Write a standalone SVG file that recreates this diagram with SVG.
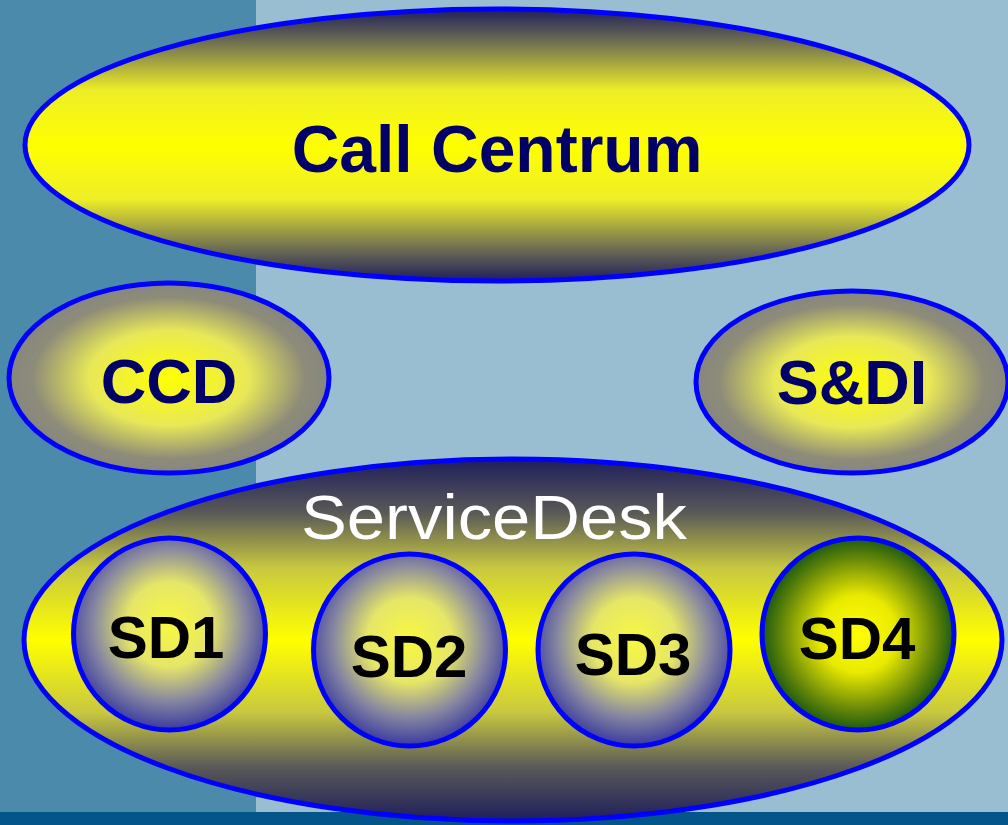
<svg xmlns="http://www.w3.org/2000/svg" width="1008" height="825" viewBox="0 0 1008 825">
<defs>
<style>
.ol{stroke:#0000ff;stroke-width:5}
.t{font-family:"Liberation Sans",Arial,sans-serif;text-anchor:middle}
.nav{fill:#000066;font-weight:bold}
.sd{fill:#000000;font-weight:bold;font-size:60px}
</style>
<linearGradient id="gTop" x1="0" y1="0" x2="0" y2="1">
<stop offset="0" stop-color="#1e1e5c"/>
<stop offset="0.12" stop-color="#6e6e52"/>
<stop offset="0.3" stop-color="#eeee28"/>
<stop offset="0.5" stop-color="#ffff00"/>
<stop offset="0.7" stop-color="#eeee28"/>
<stop offset="0.88" stop-color="#6e6e52"/>
<stop offset="1" stop-color="#1e1e5c"/>
</linearGradient>
<linearGradient id="gBand" x1="0" y1="0" x2="0" y2="1">
<stop offset="0" stop-color="#1e1e5c"/>
<stop offset="0.15" stop-color="#5a5a58"/>
<stop offset="0.3" stop-color="#c8c840"/>
<stop offset="0.5" stop-color="#ffff00"/>
<stop offset="0.7" stop-color="#c8c840"/>
<stop offset="0.85" stop-color="#5a5a58"/>
<stop offset="1" stop-color="#1e1e5c"/>
</linearGradient>
<radialGradient id="gGray" cx="0.5" cy="0.5" r="0.5">
<stop offset="0" stop-color="#ffff00"/>
<stop offset="0.5" stop-color="#e8e858"/>
<stop offset="0.85" stop-color="#8e8c78"/>
<stop offset="1" stop-color="#868680"/>
</radialGradient>
<radialGradient id="gBlue" cx="0.5" cy="0.45" r="0.55">
<stop offset="0" stop-color="#f8f840"/>
<stop offset="0.4" stop-color="#e6e668"/>
<stop offset="0.72" stop-color="#8888a0"/>
<stop offset="1" stop-color="#3a3aa0"/>
</radialGradient>
<radialGradient id="gGreen" cx="0.5" cy="0.5" r="0.5">
<stop offset="0" stop-color="#ffff00"/>
<stop offset="0.4" stop-color="#eaea00"/>
<stop offset="0.78" stop-color="#6a8a08"/>
<stop offset="1" stop-color="#1a5a10"/>
</radialGradient>
</defs>
<g id="background">
<rect x="0" y="0" width="1008" height="825" fill="#99bdd1"/>
<rect x="0" y="0" width="256" height="812" fill="#4b8aab"/>
<rect x="0" y="812" width="1008" height="13" fill="#04558a"/>
</g>
<g id="connectors"></g>
<g id="call-centrum">
<ellipse cx="497" cy="145" rx="472" ry="136" fill="url(#gTop)" class="ol"/>
<text x="497" y="172" class="t nav" font-size="66">Call Centrum</text>
</g>
<g id="ccd">
<ellipse cx="169" cy="378" rx="160" ry="95" fill="url(#gGray)" class="ol"/>
<text x="169" y="403" class="t nav" font-size="63">CCD</text>
</g>
<g id="sdi">
<ellipse cx="852" cy="382" rx="156" ry="91" fill="url(#gGray)" class="ol"/>
<text x="852" y="404" class="t nav" font-size="63">S&amp;DI</text>
</g>
<g id="servicedesk">
<ellipse cx="513" cy="640" rx="489" ry="181" fill="url(#gBand)" class="ol"/>
<text x="494" y="539" class="t" fill="#ffffff" font-size="63" textLength="386" lengthAdjust="spacingAndGlyphs">ServiceDesk</text>
</g>
<g id="sd1">
<circle cx="169.5" cy="634" r="96" fill="url(#gBlue)" class="ol"/>
<text x="166" y="658" class="t sd">SD1</text>
</g>
<g id="sd2">
<circle cx="409.5" cy="650" r="96" fill="url(#gBlue)" class="ol"/>
<text x="409" y="677" class="t sd">SD2</text>
</g>
<g id="sd3">
<circle cx="634" cy="650" r="96" fill="url(#gBlue)" class="ol"/>
<text x="633" y="675" class="t sd">SD3</text>
</g>
<g id="sd4">
<circle cx="858" cy="634" r="96" fill="url(#gGreen)" class="ol"/>
<text x="857" y="659" class="t sd">SD4</text>
</g>
</svg>
